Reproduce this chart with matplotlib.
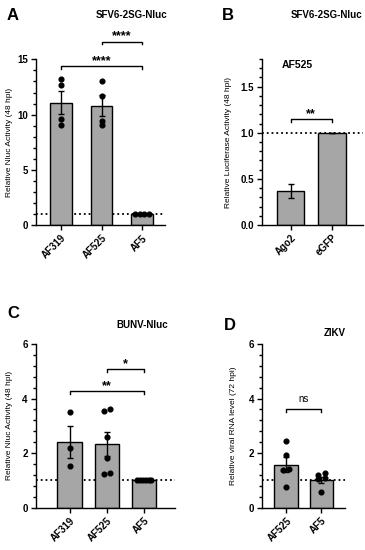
import numpy as np
import matplotlib
matplotlib.use('Agg')
import matplotlib.pyplot as plt
from matplotlib.ticker import MultipleLocator, FormatStrFormatter

plt.rcParams['font.family'] = ['Liberation Sans', 'DejaVu Sans']

# panel A - SFV6-2SG-Nluc
a_groups = ['AF319', 'AF525', 'AF5']
a_means = [11.1, 10.8, 1.0]
a_sem = [1.05, 0.95, 0.0]
a_points = [[13.2, 12.66, 9.6, 9.06], [13.08, 11.7, 9.46, 9.03], [1.0, 1.0, 1.0, 1.0]]

# panel B - SFV6-2SG-Nluc, AF525
b_groups = ['Ago2', 'eGFP']
b_means = [0.37, 1.0]
b_sem = [0.075, 0.0]

# panel C - BUNV-Nluc
c_groups = ['AF319', 'AF525', 'AF5']
c_means = [2.41, 2.35, 1.0]
c_sem = [0.58, 0.44, 0.0]
c_points = [[3.5, 2.2, 1.53], [3.56, 3.62, 2.60, 1.81, 1.23, 1.28], [1.0] * 6]

# panel D - ZIKV
d_groups = ['AF525', 'AF5']
d_means = [1.58, 1.02]
d_sem = [0.28, 0.12]
d_points = [[2.44, 1.92, 1.41, 1.38, 0.77], [1.26, 1.20, 1.08, 1.05, 0.59]]

BAR_COLOR = '#a6a6a6'
W, H = 365, 550

fig = plt.figure(figsize=(W / 100, H / 100), dpi=100)


def px_axes(left, right, bottom, top):
    # pixel box -> figure fraction
    return fig.add_axes([left / W, 1 - bottom / H, (right - left) / W, (bottom - top) / H])


def spread(vals, yrange):
    # simple swarm: values closer than a small fraction of the range are put side by side
    order = np.argsort(vals)
    xs = np.zeros(len(vals))
    clusters = [[order[0]]]
    for i in order[1:]:
        if abs(vals[i] - vals[clusters[-1][-1]]) < 0.015 * yrange:
            clusters[-1].append(i)
        else:
            clusters.append([i])
    for cl in clusters:
        n = len(cl)
        if n > 1:
            step = min(0.18, 0.45 / n)
            offs = (np.arange(n) - (n - 1) / 2) * step
            for k, idx in enumerate(cl):
                xs[idx] = offs[k]
    return xs


def bar_panel(ax, groups, means, sem, points, width, ylim, xlim):
    x = np.arange(len(groups))
    ax.axhline(1.0, color='black', linestyle=':', linewidth=1.3, zorder=1, clip_on=False)
    ax.bar(x, means, width, color=BAR_COLOR, edgecolor='black', linewidth=1.0, zorder=2)
    ax.errorbar(x, means, yerr=sem, fmt='none', ecolor='black', elinewidth=1.0,
                capsize=2.5, capthick=1.0, zorder=3)
    if points is not None:
        for i, vals in enumerate(points):
            vals = np.array(vals)
            ax.plot(x[i] + spread(vals, ylim[1] - ylim[0]), vals, 'o', color='black',
                    markersize=3.4, zorder=4, clip_on=False)
    ax.set_xlim(*xlim)
    ax.set_ylim(*ylim)
    ax.set_xticks(x)
    ax.set_xticklabels(groups, rotation=45, ha='right', rotation_mode='anchor',
                       fontsize=7, fontweight='bold')
    for s in ['top', 'right']:
        ax.spines[s].set_visible(False)
    for s in ['left', 'bottom']:
        ax.spines[s].set_linewidth(1.0)
    ax.tick_params(axis='both', which='major', length=3.5, width=1.0, labelsize=7, pad=2)
    ax.tick_params(axis='both', which='minor', length=2.2, width=1.0)
    ax.tick_params(axis='x', which='minor', bottom=False)


def bracket(ax, i, j, y, drop, text, bold=True, size=9, lift=1.4):
    ax.plot([i, i, j, j], [y - drop, y, y, y - drop], color='black', linewidth=1.0, clip_on=False)
    ax.annotate(text, xy=((i + j) / 2, y), xytext=(0, lift), textcoords='offset points',
                ha='center', va='baseline', fontsize=size,
                fontweight='bold' if bold else 'normal', annotation_clip=False)


def bold_yticks(ax):
    for lab in ax.get_yticklabels():
        lab.set_fontweight('bold')


# ---- A ----
axA = px_axes(36, 165, 225.5, 59.3)
bar_panel(axA, a_groups, a_means, a_sem, a_points, 0.54, (0, 15), (-0.62, 2.57))
axA.yaxis.set_major_locator(MultipleLocator(5))
axA.yaxis.set_minor_locator(MultipleLocator(1))
bold_yticks(axA)
axA.set_ylabel('Relative Nluc Activity (48 hpi)', fontsize=6)
axA.yaxis.set_label_coords(-0.178, 0.5)
bracket(axA, 0, 2, 14.4, 0.25, '****')
bracket(axA, 1, 2, 16.6, 0.25, '****')

# ---- B ----
axB = px_axes(262, 363, 225, 59)
bar_panel(axB, b_groups, b_means, b_sem, None, 0.67, (0, 1.8), (-0.69, 1.75))
axB.yaxis.set_major_locator(MultipleLocator(0.5))
axB.yaxis.set_minor_locator(MultipleLocator(0.1))
axB.yaxis.set_major_formatter(FormatStrFormatter('%.1f'))
bold_yticks(axB)
axB.set_ylabel('Relative Luciferase Activity (48 hpi)', fontsize=6)
axB.yaxis.set_label_coords(-0.297, 0.5)
bracket(axB, 0, 1, 1.15, 0.03, '**')
axB.text(0.2, 1.73, 'AF525', transform=axB.get_yaxis_transform(), ha='left', va='center',
         fontsize=7.5, fontweight='bold')

# ---- C ----
axC = px_axes(35.5, 175, 507.7, 344)
bar_panel(axC, c_groups, c_means, c_sem, c_points, 0.65, (0, 6), (-0.91, 2.82))
axC.yaxis.set_major_locator(MultipleLocator(2))
axC.yaxis.set_minor_locator(MultipleLocator(0.4))
bold_yticks(axC)
axC.set_ylabel('Relative Nluc Activity (48 hpi)', fontsize=6)
axC.yaxis.set_label_coords(-0.161, 0.5)
bracket(axC, 0, 2, 4.27, 0.1, '**')
bracket(axC, 1, 2, 5.09, 0.1, '*')

# ---- D ----
axD = px_axes(261.7, 345, 507.7, 344)
bar_panel(axD, d_groups, d_means, d_sem, d_points, 0.68, (0, 6), (-0.70, 1.67))
axD.yaxis.set_major_locator(MultipleLocator(2))
axD.yaxis.set_minor_locator(MultipleLocator(0.4))
bold_yticks(axD)
axD.set_ylabel('Relative viral RNA level (72 hpi)', fontsize=6)
axD.yaxis.set_label_coords(-0.297, 0.5)
bracket(axD, 0, 1, 3.62, 0.1, 'ns', bold=False, size=7, lift=5.3)


# panel letters and titles
def ftext(x, y, s, size, ha='left'):
    fig.text(x / W, 1 - y / H, s, ha=ha, va='center', fontsize=size, fontweight='bold')


ftext(7, 15, 'A', 12)
ftext(167, 15, 'SFV6-2SG-Nluc', 7, ha='right')
ftext(222, 15, 'B', 12)
ftext(362, 15, 'SFV6-2SG-Nluc', 7, ha='right')
ftext(7, 313, 'C', 12)
ftext(168, 325, 'BUNV-Nluc', 7, ha='right')
ftext(224, 325, 'D', 12)
ftext(346, 333, 'ZIKV', 7, ha='right')

fig.savefig('out.png', dpi=100)
